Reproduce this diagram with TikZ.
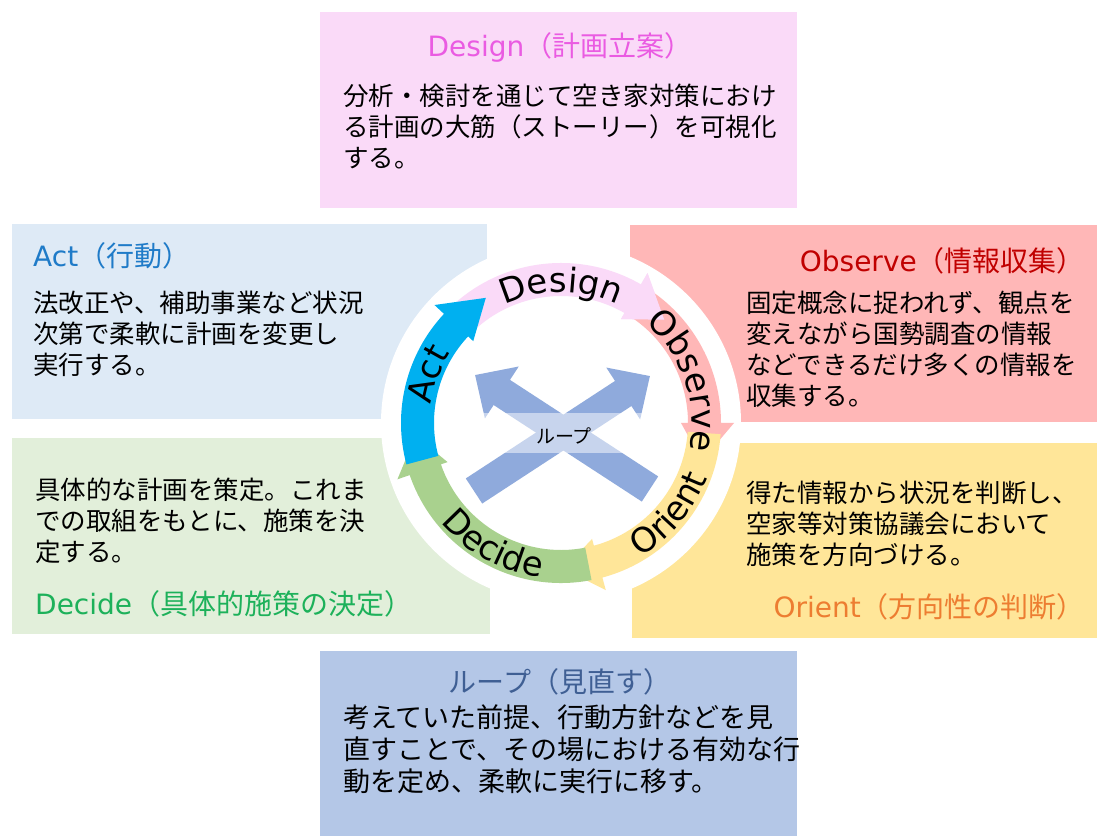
\documentclass[tikz,border=0pt]{standalone}
\usepackage{fontspec}
\setmainfont{Noto Sans CJK JP}
\newfontfamily\latfont{DejaVu Sans}
\usetikzlibrary{arrows.meta,decorations.text}

\definecolor{designbg}{HTML}{FADAF8}
\definecolor{actbg}{HTML}{DEEAF6}
\definecolor{observebg}{HTML}{FFB7B7}
\definecolor{decidebg}{HTML}{E2EFDA}
\definecolor{orientbg}{HTML}{FFE699}
\definecolor{loopbg}{HTML}{B4C7E7}
\definecolor{designarc}{HTML}{FADAF8}
\definecolor{observearc}{HTML}{FFB7B7}
\definecolor{orientarc}{HTML}{FFE699}
\definecolor{decidearc}{HTML}{A9D18E}
\definecolor{actarc}{HTML}{00B0F0}
\definecolor{loopx}{HTML}{8FAADC}
\definecolor{designtxt}{HTML}{EA5BE2}
\definecolor{acttxt}{HTML}{1F7BC8}
\definecolor{observetxt}{HTML}{C00000}
\definecolor{decidetxt}{HTML}{1DB15A}
\definecolor{orienttxt}{HTML}{ED7D31}
\definecolor{looptxt}{HTML}{3F5F94}

\newcommand\arcfont{\latfont\fontsize{34}{34}\selectfont}

\begin{document}
\begin{tikzpicture}[
		x=1pt,y=1pt,
		panel/.style={
			rectangle,
			draw=none,
			inner sep=0,
			outer sep=0
		},
		paneltitle/.style={
			font=\fontsize{28}{34}\selectfont,
			inner sep=0
		},
		paneltext/.style={
			font=\fontsize{25.5}{31}\selectfont,
			align=left,
			inner sep=0,
			anchor=base west
		},
		looparrow/.style={
			draw=loopx,
			line width=30,
			-{Triangle[length=32pt,width=60pt]}
		},
		arclabel/.style={
			decorate,
			decoration={text along path,text align=center,text={|\arcfont|#1}}
		}
		]
		\useasboundingbox (0,0) rectangle (1098,838);
		% Panels
		\node[panel,fill=designbg,minimum width=477,minimum height=196] (design) at (558.5,728) {};
		\node[panel,fill=actbg,minimum width=475,minimum height=195] (act) at (249.5,516.5) {};
		\node[panel,fill=observebg,minimum width=467,minimum height=197] (observe) at (863.5,514.5) {};
		\node[panel,fill=decidebg,minimum width=478,minimum height=196] (decide) at (251,302) {};
		\node[panel,fill=orientbg,minimum width=465,minimum height=195] (orient) at (864.5,297.5) {};
		\node[panel,fill=loopbg,minimum width=477,minimum height=185] (loop) at (558.5,94.5) {};
		% Panel texts (base = last line)
		\node[paneltitle,text=designtxt,anchor=base] (designtitle) at (560,781) {{\latfont Design}（計画立案）};
		\node[paneltext] (designtext) at (343,670) {分析・検討を通じて空き家対策におけ\\る計画の大筋（ストーリー）を可視化\\する。};
		\node[paneltitle,text=acttxt,anchor=base west] (acttitle) at (33,571) {{\latfont Act}（行動）};
		\node[paneltext] (acttext) at (33,463) {法改正や、補助事業など状況\\次第で柔軟に計画を変更し\\実行する。};
		\node[paneltitle,text=observetxt,anchor=base east] (observetitle) at (1085,566) {{\latfont Observe}（情報収集）};
		\node[paneltext] (observetext) at (746,432) {固定概念に捉われず、観点を\\変えながら国勢調査の情報\\などできるだけ多くの情報を\\収集する。};
		\node[paneltext] (decidetext) at (35,276) {具体的な計画を策定。これま\\での取組をもとに、施策を決\\定する。};
		\node[paneltitle,text=decidetxt,anchor=base west] (decidetitle) at (35,223) {{\latfont Decide}（具体的施策の決定）};
		\node[paneltext] (orienttext) at (746,273) {得た情報から状況を判断し、\\空家等対策協議会において\\施策を方向づける。};
		\node[paneltitle,text=orienttxt,anchor=base east] (orienttitle) at (1085,220) {{\latfont Orient}（方向性の判断）};
		\node[paneltitle,text=looptxt,anchor=base] (looptitle) at (560,145) {ループ（見直す）};
		\node[paneltext,font=\fontsize{27}{32}\selectfont] (looptext) at (343,46) {考えていた前提、行動方針などを見\\直すことで、その場における有効な行\\動を定め、柔軟に実行に移す。};
		% Cycle
		\begin{scope}[shift={(561,415)}]
			\fill[white] (0,0) circle[radius=180];
			\foreach \col/\sa/\ba/\ta in {designarc/134/60/45,observearc/56/0/-15,orientarc/-4/-75/-89,decidearc/-79/-161/-175,actarc/-165/-223/-239}
				\fill[\col] (\sa:160) arc[start angle=\sa,end angle=\ba,radius=160] -- (\ba:173) -- (\ta:146) -- (\ba:120) -- (\ba:127) arc[start angle=\ba,end angle=\sa,radius=127] -- cycle;
			\fill[designarc] (60:173) -- (45:146) -- (60:120) -- cycle;
			% Arc labels
			\path[arclabel=Design] (140:131) arc[start angle=140,end angle=40,radius=131];
			\path[arclabel=Observe] (59:131) arc[start angle=59,end angle=-21,radius=131];
			\path[arclabel=Orient] (-80:156) arc[start angle=-80,end angle=0,radius=156];
			\path[arclabel=Decide] (200:156) arc[start angle=200,end angle=282,radius=156];
			\path[arclabel=Act] (200:131) arc[start angle=200,end angle=120,radius=131];
		\end{scope}
		% Loop cross
		\coordinate (xatail) at (650,349);
		\coordinate (xahead) at (475,463);
		\coordinate (xbtail) at (474,347);
		\coordinate (xbhead) at (650,462);
		\draw[looparrow] (xatail) -- (xahead);
		\draw[looparrow] (xbtail) -- (xbhead);
		\fill[white,opacity=0.5] (460,425) rectangle (665,385);
		\node[font=\fontsize{19}{19}\selectfont,inner sep=0] (looplabel) at (564,402) {ループ};
\end{tikzpicture}
\end{document}
